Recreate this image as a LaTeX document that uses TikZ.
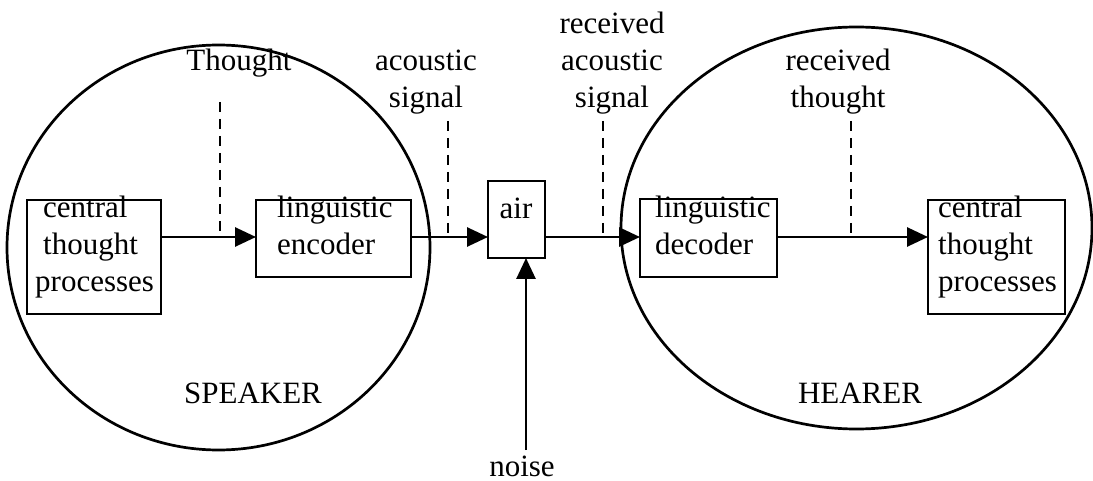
\documentclass[tikz,border=0pt]{standalone}
\usepackage{fontspec}
\setmainfont{Liberation Serif}
\usetikzlibrary{arrows.meta,shapes.geometric}
\begin{document}
\begin{tikzpicture}[x=1pt,y=-1pt,
  lw/.style={line width=2.7pt},
  box/.style={draw, lw, rectangle, inner sep=0pt, outer sep=0pt, anchor=north west},
  txt/.style={inner sep=0pt, font=\fontsize{31}{37}\selectfont},
  arr/.style={lw, -{Triangle[length=21pt,width=19pt]}},
  dsh/.style={lw, dash pattern=on 10pt off 7pt},
  circ/.style={draw, lw, ellipse, inner sep=0pt, outer sep=0pt}]
\useasboundingbox (0,0) rectangle (1093,481);
% people
\node[circ, minimum width=423pt, minimum height=405pt] (spk) at (218.5,247.5) {};
\node[circ, minimum width=471pt, minimum height=402pt] (hear) at (856.5,228) {};
% boxes
\node[box, minimum width=134pt, minimum height=114pt] (cp) at (27,200) {};
\node[box, minimum width=155pt, minimum height=77pt] (enc) at (256,200) {};
\node[box, minimum width=57pt, minimum height=77pt] (air) at (488,181) {};
\node[box, minimum width=137pt, minimum height=78pt] (dec) at (640,199) {};
\node[box, minimum width=137pt, minimum height=114pt] (cp2) at (928,200) {};
% box texts (base = last line)
\node[txt, align=left, anchor=base west] (cpt) at (35,292) {\hspace*{8pt}central\\\hspace*{8pt}thought\\processes};
\node[txt, align=left, anchor=base west] (enct) at (277,255) {linguistic\\encoder};
\node[txt, anchor=base] (airt) at (516,219) {air};
\node[txt, align=left, anchor=base west] (dect) at (655,255) {linguistic\\decoder};
\node[txt, align=left, anchor=base west] (cp2t) at (938,292) {central\\thought\\processes};
% signal labels
\node[txt, align=center, anchor=base] (l1) at (239,71) {Thought};
\node[txt, align=center, anchor=base] (l2) at (426,108) {acoustic\\signal};
\node[txt, align=center, anchor=base] (l3) at (612,108) {received\\acoustic\\signal};
\node[txt, align=center, anchor=base] (l4) at (838,108) {received\\thought};
\node[txt, anchor=base] (spkt) at (253,403) {SPEAKER};
\node[txt, anchor=base] (heart) at (860,403) {HEARER};
\node[txt, anchor=base] (noiset) at (522,476) {noise};
% main line
\coordinate (ay) at (0,237);
\draw[arr] (ay -| cp.east) -- (ay -| enc.west);
\draw[arr] (ay -| enc.east) -- (ay -| air.west);
\draw[arr] (ay -| air.east) -- (ay -| dec.west);
\draw[arr] (ay -| dec.east) -- (ay -| cp2.west);
% noise
\coordinate (nb) at (526,450);
\draw[arr] (nb) -- (nb |- air.south);
% dashed taps
\coordinate (d1) at (220,102);
\coordinate (d2) at (448,121);
\coordinate (d3) at (603,121);
\coordinate (d4) at (851,121);
\draw[dsh] (d1) -- (d1 |- ay);
\draw[dsh] (d2) -- (d2 |- ay);
\draw[dsh] (d3) -- (d3 |- ay);
\draw[dsh] (d4) -- (d4 |- ay);
\end{tikzpicture}
\end{document}
